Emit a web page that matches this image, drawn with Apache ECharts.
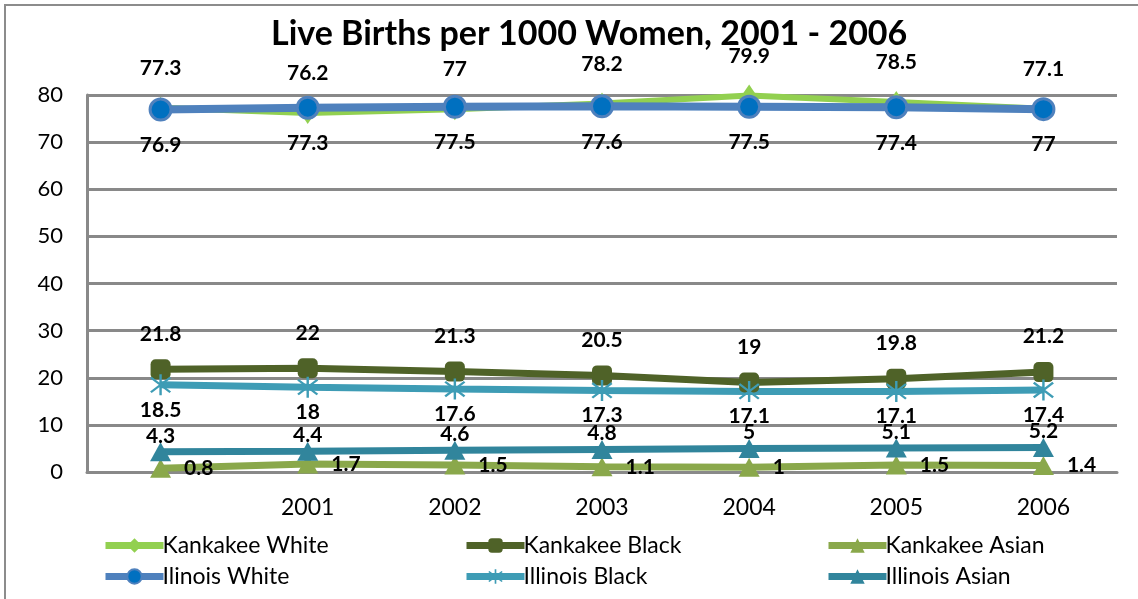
<!DOCTYPE html>
<html>
<head>
<meta charset="utf-8">
<script src="https://cdn.jsdelivr.net/npm/echarts@6/dist/echarts.min.js"></script>
<style>html,body{margin:0;padding:0;background:#fff}#c{width:1138px;height:599px}</style>
</head>
<body>
<div id="c"></div>
<script>
const categories = ["", "2001", "2002", "2003", "2004", "2005", "2006"];
const kankakeeWhite = [77.3, 76.2, 77, 78.2, 79.9, 78.5, 77.1];
const kankakeeBlack = [21.8, 22, 21.3, 20.5, 19, 19.8, 21.2];
const kankakeeAsian = [0.8, 1.7, 1.5, 1.1, 1, 1.5, 1.4];
const illinoisWhite = [76.9, 77.3, 77.5, 77.6, 77.5, 77.4, 77];
const illinoisBlack = [18.5, 18, 17.6, 17.3, 17.1, 17.1, 17.4];
const illinoisAsian = [4.3, 4.4, 4.6, 4.8, 5, 5.1, 5.2];
const yTicks = [0, 10, 20, 30, 40, 50, 60, 70, 80];

const FONT = 'Lato, "Open Sans", sans-serif';
const asterisk = 'path://M9,0 L11,0 L11,20 L9,20 Z M2.66,2.25 L18.66,16.25 L17.34,17.75 L1.34,3.75 Z M18.66,3.75 L2.66,17.75 L1.34,16.25 L17.34,2.25 Z';
const lbl = (pos, dist) => ({show: true, position: pos, distance: dist, color: '#000', fontWeight: 'bold', fontSize: 21, fontFamily: FONT});

function mk(name, data, color, symbol, size, label, lw, symColor) {
  return {
    name, type: 'line', data, symbol, symbolSize: size,
    lineStyle: {color, width: lw},
    itemStyle: {color: symColor || color, borderColor: color, borderWidth: symColor ? 3 : 0},
    label, emphasis: {disabled: true}, animation: false, z: 3
  };
}

const series = [
  mk('Kankakee White', kankakeeWhite, '#92D050', 'diamond', [15, 22], lbl('top', 18), 6),
  mk('Kankakee Black', kankakeeBlack, '#4F6228', 'roundRect', 20, lbl('top', 15), 7),
  mk('Kankakee Asian', kankakeeAsian, '#8AA84B', 'triangle', [21, 19], lbl('right', 13), 7),
  mk('Ilinois White', illinoisWhite, '#4F81BD', 'circle', 21, lbl('bottom', 13), 8, '#0070C0'),
  mk('Illinois Black', illinoisBlack, '#3E9CB5', asterisk, 21, lbl('bottom', 4), 7),
  mk('Illinois Asian', illinoisAsian, '#31859C', 'triangle', [21, 19], lbl('top', -4), 7)
];
series[4].itemStyle = {color: '#3E9CB5'};

const legendPos = [
  ['Kankakee White', 97, 529], ['Kankakee Black', 458, 529], ['Kankakee Asian', 820, 529],
  ['Ilinois White', 97, 560], ['Illinois Black', 458, 560], ['Illinois Asian', 820, 560]
];
const legends = legendPos.map(([n, x, y]) => ({
  data: [n], left: x, top: y, itemWidth: 58, itemHeight: 18, itemGap: 2,
  lineStyle: {width: 7},
  textStyle: {fontSize: 23, fontFamily: FONT, color: '#000', padding: [0, 0, 0, -6]},
  selectedMode: false
}));

const chart = echarts.init(document.getElementById('c'), null, {renderer: 'canvas'});
chart.setOption({
  animation: false,
  backgroundColor: '#fff',
  title: {
    text: 'Live Births per 1000 Women, 2001 - 2006', left: 266, top: 12,
    textStyle: {fontSize: 34, fontWeight: 'bold', fontFamily: FONT, color: '#000'}
  },
  graphic: [{type: 'polyline', shape: {points: [[5, 599], [5, 5], [1138, 5]]}, style: {stroke: '#8c8c8c', lineWidth: 2, fill: null}}],
  legend: legends,
  grid: {left: 87, right: 21, top: 95, bottom: 127, containLabel: false},
  xAxis: {
    type: 'category', data: categories, boundaryGap: true,
    axisLine: {lineStyle: {color: '#898989', width: 3}},
    axisTick: {show: false},
    axisLabel: {fontSize: 23, fontFamily: FONT, color: '#000', margin: 24}
  },
  yAxis: {
    type: 'value', min: yTicks[0], max: yTicks[yTicks.length - 1], interval: 10,
    axisLine: {show: true, lineStyle: {color: '#898989', width: 3}},
    axisTick: {show: false},
    splitLine: {lineStyle: {color: '#898989', width: 3}},
    axisLabel: {fontSize: 22, fontFamily: FONT, color: '#000', margin: 24}
  },
  series
});
</script>
</body>
</html>
